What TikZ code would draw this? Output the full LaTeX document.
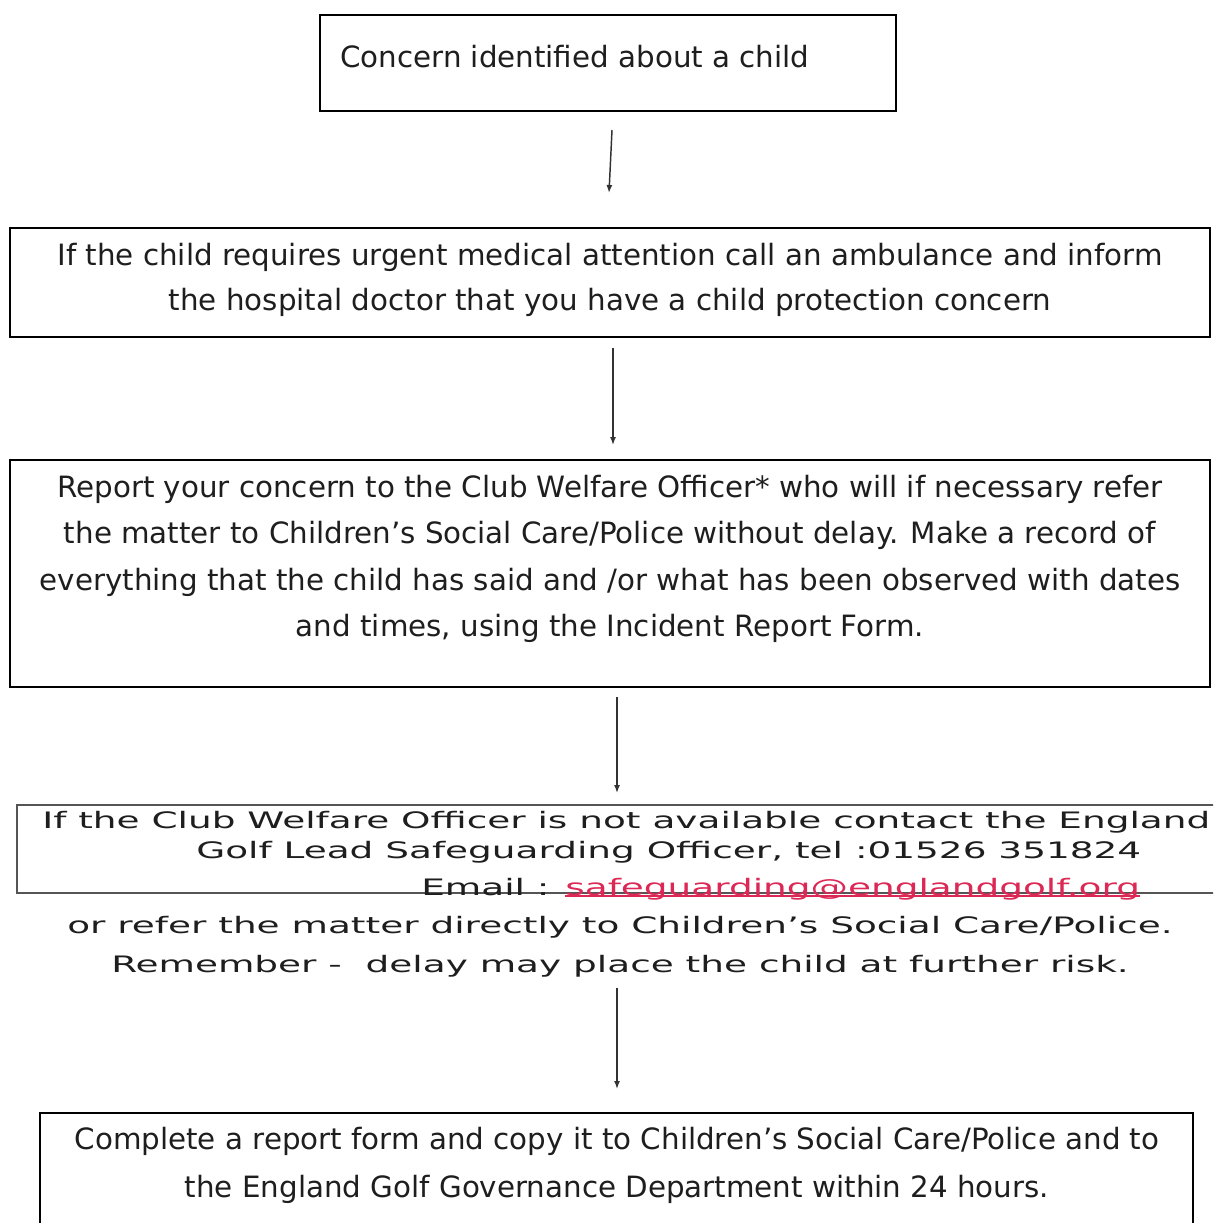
\documentclass[tikz,border=0pt]{standalone}
\usepackage{fontspec}
\setmainfont{DejaVu Sans}
\usetikzlibrary{fit,arrows.meta}
\definecolor{txt}{RGB}{30,30,30}
\definecolor{linkc}{RGB}{220,40,85}
\definecolor{greyline}{RGB}{85,85,85}
\definecolor{arrc}{RGB}{50,50,50}
\newcommand{\wide}[1]{\scalebox{1.65}[1]{#1}}
\newcommand{\ulink}[1]{{\color{linkc}\setbox0\hbox{#1}\rlap{\rule[-1.6pt]{\wd0}{1.3pt}}\box0}}
\begin{document}
\begin{tikzpicture}[x=0.75pt,y=-0.75pt,
  box/.style={draw=black,line width=1.5pt,inner sep=0pt},
  greybox/.style={draw=greyline,line width=2pt,inner sep=0pt},
  txtline/.style={inner sep=0pt,anchor=base,text=txt,font=\fontsize{22}{26}\selectfont},
  txtlinel/.style={txtline,anchor=base west},
  smline/.style={inner sep=0pt,anchor=base west,text=txt,font=\fontsize{17}{20}\selectfont},
  arr/.style={draw=arrc,line width=1.1pt,-{Latex[length=6pt,width=4.5pt]}}
]
\useasboundingbox (0,0) rectangle (1213,1223);
\clip (0,0) rectangle (1213,1223);
\fill[white] (0,0) rectangle (1213,1223);

% Box 1
\node[box,fit={(320,15)(896,111)}] (b1) {};
\node[txtlinel] (t1) at (340,68) {Concern identified about a child};

% Box 2
\node[box,fit={(10,228)(1210,337)}] (b2) {};
\node[txtline] (t2a) at (610,265) {If the child requires urgent medical attention call an ambulance and inform};
\node[txtline] (t2b) at (610,310) {the hospital doctor that you have a child protection concern};

% Box 3
\node[box,fit={(10,460)(1210,687)}] (b3) {};
\node[txtline] (t3a) at (610,497) {Report your concern to the Club Welfare Officer* who will if necessary refer};
\node[txtline] (t3b) at (610,543) {the matter to Children’s Social Care/Police without delay. Make a record of};
\node[txtline] (t3c) at (610,590) {everything that the child has said and /or what has been observed with dates};
\node[txtline] (t3d) at (610,636) {and times, using the Incident Report Form.};

% Box 4
\node[greybox,fit={(17,805)(1260,893)}] (b4) {};
\node[smline] (t4a) at (42,828) {\wide{If the Club Welfare Officer is not available contact the England}};
\node[smline] (t4b) at (196,858) {\wide{Golf Lead Safeguarding Officer, tel :01526 351824}};
\node[smline] (t4c) at (421,895) {\wide{Email : \ulink{safeguarding@englandgolf.org}}};
\node[smline] (t4d) at (67,933) {\wide{or refer the matter directly to Children’s Social Care/Police.}};
\node[smline] (t4e) at (111,972) {\wide{Remember -\ \ delay may place the child at further risk.}};

% Box 5
\node[box,fit={(40,1113)(1193,1260)}] (b5) {};
\node[txtline] (t5a) at (617,1149) {Complete a report form and copy it to Children’s Social Care/Police and to};
\node[txtline] (t5b) at (617,1197) {the England Golf Governance Department within 24 hours.};

% Arrows
\coordinate (a1s) at (612,130); \coordinate (a1e) at (609,193);
\coordinate (a2s) at (613,348); \coordinate (a2e) at (613,445);
\coordinate (a3s) at (617,697); \coordinate (a3e) at (617,793);
\coordinate (a4s) at (617,988); \coordinate (a4e) at (617,1089);
\draw[arr] (a1s) -- (a1e);
\draw[arr] (a2s) -- (a2e);
\draw[arr] (a3s) -- (a3e);
\draw[arr] (a4s) -- (a4e);
\end{tikzpicture}
\end{document}
